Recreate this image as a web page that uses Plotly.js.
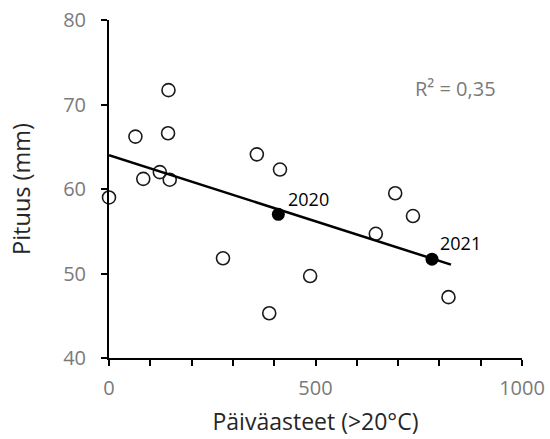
<!DOCTYPE html>
<html>
<head>
<meta charset="utf-8">
<script src="https://cdn.plot.ly/plotly-3.0.1.min.js"></script>
<style>html,body{margin:0;padding:0;background:#fff;}#chart{width:550px;height:439px;}</style>
</head>
<body>
<div id="chart"></div>
<script>
// Open circles: other years
const otherX = [0, 64, 83, 144, 143, 123, 147, 358, 414, 276, 388, 487, 646, 693, 736, 822];
const otherY = [59.0, 66.2, 61.2, 71.7, 66.6, 62.0, 61.1, 64.1, 62.3, 51.8, 45.3, 49.7, 54.7, 59.5, 56.8, 47.2];
// Highlighted years
const yearLabels = ['2020', '2021'];
const yearX = [410, 782];
const yearY = [57.0, 51.7];
// Linear trend line endpoints
const trendX = [0, 828];
const trendY = [64.0, 51.05];
const r2Text = 'R² = 0,35';

const font = '"Open Sans", "Liberation Sans", sans-serif';

const traces = [
  {x: otherX, y: otherY, type: 'scatter', mode: 'markers', cliponaxis: false,
   marker: {symbol: 'circle-open', size: 13, color: '#1a1a1a', line: {width: 1.6, color: '#1a1a1a'}}},
  {x: trendX, y: trendY, type: 'scatter', mode: 'lines', cliponaxis: false,
   line: {color: '#000', width: 2.5}},
  {x: yearX, y: yearY, type: 'scatter', mode: 'markers', cliponaxis: false,
   marker: {symbol: 'circle', size: 13, color: '#000'}}
];

const shifts = [[8, 15], [6, 16]];
const annotations = yearLabels.map((t, i) => ({
  x: yearX[i], y: yearY[i], xref: 'x', yref: 'y', text: t, showarrow: false,
  xanchor: 'left', yanchor: 'middle', xshift: shifts[i][0], yshift: shifts[i][1],
  font: {family: font, size: 18, color: '#000'}
}));
annotations.push({x: 840, y: 71.95, xref: 'x', yref: 'y', text: r2Text, showarrow: false,
  xanchor: 'center', yanchor: 'middle',
  font: {family: font, size: 20, color: '#7a7a7a'}});

const layout = {
  width: 550, height: 439,
  margin: {l: 109, r: 28, t: 20, b: 81},
  paper_bgcolor: '#fff', plot_bgcolor: '#fff',
  showlegend: false,
  font: {family: font},
  xaxis: {
    range: [0, 1000], tickvals: [0, 500, 1000], ticks: 'outside', ticklen: 6, tickwidth: 2, tickcolor: '#000',
    showline: true, linewidth: 2, linecolor: '#000', showgrid: false, zeroline: false,
    minor: {tickvals: [100, 200, 300, 400, 600, 700, 800, 900], ticks: 'outside', ticklen: 6, tickwidth: 2, tickcolor: '#000', showgrid: false},
    ticklabelstandoff: 5,
    tickfont: {family: font, size: 20, color: '#7a7a7a'},
    title: {text: 'Päiväasteet (>20°C)', font: {family: font, size: 23, color: '#262626'}, standoff: 14}
  },
  yaxis: {
    range: [40, 80], dtick: 10, ticks: 'outside', ticklen: 6, tickwidth: 2, tickcolor: '#000',
    showline: true, linewidth: 2, linecolor: '#000', showgrid: false, zeroline: false,
    ticklabelstandoff: 11,
    tickfont: {family: font, size: 20, color: '#7a7a7a'},
    title: {text: 'Pituus (mm)', font: {family: font, size: 23.5, color: '#262626'}, standoff: 26}
  },
  annotations: annotations
};

Plotly.newPlot('chart', traces, layout, {displayModeBar: false, staticPlot: true});
</script>
</body>
</html>
